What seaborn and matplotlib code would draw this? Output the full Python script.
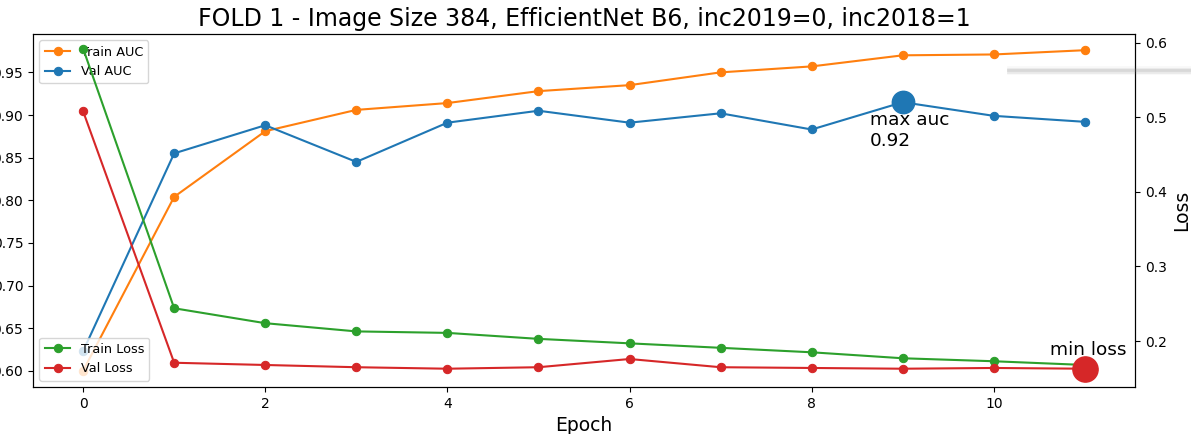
import matplotlib
matplotlib.use("Agg")
import matplotlib.pyplot as plt
from matplotlib.lines import Line2D
import seaborn as sns
import numpy as np
import pandas as pd

epochs = list(range(12))
train_auc = [0.600, 0.804, 0.881, 0.906, 0.914, 0.928, 0.935, 0.950, 0.957, 0.970, 0.971, 0.976]
val_auc = [0.623, 0.855, 0.888, 0.845, 0.891, 0.905, 0.891, 0.902, 0.883, 0.915, 0.899, 0.892]
train_loss = [0.592, 0.244, 0.224, 0.213, 0.211, 0.203, 0.197, 0.191, 0.185, 0.177, 0.173, 0.168]
val_loss = [0.508, 0.171, 0.168, 0.165, 0.163, 0.165, 0.176, 0.165, 0.164, 0.163, 0.164, 0.163]
title = "FOLD 1 - Image Size 384, EfficientNet B6, inc2019=0, inc2018=1"

df = pd.DataFrame({"epoch": epochs, "train_auc": train_auc, "val_auc": val_auc,
                   "train_loss": train_loss, "val_loss": val_loss})

fig = plt.figure(figsize=(11.91, 4.34), dpi=100)
ax1 = fig.add_axes([33 / 1191, 47 / 434, (1135 - 33) / 1191, (387 - 34) / 434])
ax2 = ax1.twinx()

c_tr_auc, c_val_auc, c_tr_loss, c_val_loss = "#ff7f0e", "#1f77b4", "#2ca02c", "#d62728"

sns.lineplot(data=df, x="epoch", y="train_auc", ax=ax1, color=c_tr_auc, marker="o",
             markersize=6, markeredgecolor=c_tr_auc, label="Train AUC")
sns.lineplot(data=df, x="epoch", y="val_auc", ax=ax1, color=c_val_auc, marker="o",
             markersize=6, markeredgecolor=c_val_auc, label="Val AUC")
sns.lineplot(data=df, x="epoch", y="train_loss", ax=ax2, color=c_tr_loss, marker="o",
             markersize=6, markeredgecolor=c_tr_loss, label="Train Loss")
sns.lineplot(data=df, x="epoch", y="val_loss", ax=ax2, color=c_val_loss, marker="o",
             markersize=6, markeredgecolor=c_val_loss, label="Val Loss")

best_ep = int(np.argmax(val_auc))
best_auc = val_auc[best_ep]
min_ep = int(np.argmin(val_loss[::-1]))
min_ep = len(val_loss) - 1 - min_ep
min_loss = val_loss[min_ep]

ax1.scatter([best_ep], [best_auc], s=260, color=c_val_auc, zorder=5)
ax1.text(best_ep - 0.36, best_auc - 0.0105, "max auc\n%.2f" % best_auc, fontsize=13.3,
         va="top", ha="left")
ax2.scatter([min_ep], [min_loss], s=330, color=c_val_loss, zorder=5)
ax2.text(min_ep + 0.04, min_loss + 0.019, "min loss", fontsize=13.3, va="baseline", ha="center")

ax1.set_xlim(-0.55, 11.55)
ax1.set_ylim(0.581, 0.995)
ax2.set_ylim(0.1385, 0.6115)
ax1.set_xticks([0, 2, 4, 6, 8, 10])
ax1.set_yticks([0.60, 0.65, 0.70, 0.75, 0.80, 0.85, 0.90, 0.95])
ax2.set_yticks([0.2, 0.3, 0.4, 0.5, 0.6])

ax1.set_xlabel("Epoch", fontsize=13.5)
ax1.set_ylabel("")
ax2.set_ylabel("Loss", fontsize=13.5)
ax1.set_title(title, fontsize=17)

ax1.legend(loc="upper left", fontsize=9.3)
ax2.legend(loc="lower left", fontsize=9.3)

# faint shadow artifact at top right
for dy, a in [(0, 0.22), (1.5, 0.12), (-1.5, 0.12), (3, 0.05), (-3, 0.05)]:
    y = (434 - 70 + dy) / 434
    fig.add_artist(Line2D([1008 / 1191, 1.0], [y, y], transform=fig.transFigure,
                          color="gray", alpha=a, lw=2, zorder=10))

fig.savefig("out.png", dpi=100)
